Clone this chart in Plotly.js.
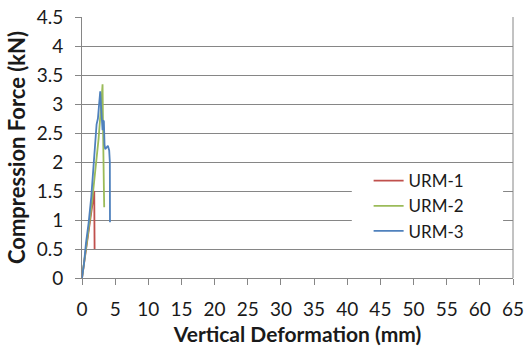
<!DOCTYPE html>
<html><head><meta charset="utf-8">
<script src="https://cdn.plot.ly/plotly-3.0.1.min.js"></script>
<style>html,body{margin:0;padding:0;background:#fff}#c{width:527px;height:354px}</style>
</head><body><div id="c"></div>
<script>
const seriesNames = ["URM-1", "URM-2", "URM-3"];
const urm1X = [0, 0.5, 1.0, 1.5, 1.85, 1.87, 1.9];
const urm1Y = [0, 0.42, 0.82, 1.22, 1.5, 1.0, 0.5];
const urm2X = [0, 0.5, 1.0, 1.5, 2.0, 2.5, 2.9, 3.1, 3.15, 3.2, 3.3, 3.35];
const urm2Y = [0, 0.4, 0.85, 1.3, 1.8, 2.4, 3.0, 3.34, 2.8, 1.8, 1.55, 1.22];
const urm3X = [0, 0.3, 0.6, 1.0, 1.4, 1.8, 2.1, 2.2, 2.4, 2.6, 2.75, 2.85, 3.0, 3.1, 3.2, 3.3, 3.4, 3.5, 3.7, 3.9, 4.1, 4.2, 4.22];
const urm3Y = [0, 0.25, 0.6, 0.95, 1.4, 2.0, 2.55, 2.65, 2.75, 3.1, 3.22, 3.0, 2.6, 2.55, 2.72, 2.7, 2.3, 2.22, 2.25, 2.28, 2.2, 2.0, 0.96];
const colors = ["#C0504D", "#9BBB59", "#4F81BD"];
const xTicks = [0,5,10,15,20,25,30,35,40,45,50,55,60,65];
const yTicks = [0,0.5,1,1.5,2,2.5,3,3.5,4,4.5];

const xs = [urm1X, urm2X, urm3X], ys = [urm1Y, urm2Y, urm3Y];
const traces = seriesNames.map((n,i)=>({x: xs[i], y: ys[i], name: n, type:'scatter', mode:'lines', line:{color:colors[i], width:1.8}}));
const font = "Lato, 'Open Sans', sans-serif";
const layout = {
  width:527, height:354,
  margin:{l:82, r:14, t:17, b:76},
  paper_bgcolor:'#fff', plot_bgcolor:'#fff',
  font:{family:font, size:19, color:'#1a1a1a'},
  showlegend:true,
  legend:{x:0.665, y:0.44, xanchor:'left', yanchor:'top', bgcolor:'rgba(0,0,0,0)', font:{size:17}, tracegroupgap:0, itemwidth:30},
  xaxis:{range:[0,65], tickvals:xTicks, ticktext:xTicks.map(String), ticks:'outside', ticklen:6, tickcolor:'#868686',
    showline:true, linecolor:'#868686', linewidth:1, showgrid:false, zeroline:false, mirror:false, ticklabelstandoff:8,
    tickfont:{size:19},
    title:{text:'<b>Vertical Deformation (mm)</b>', font:{size:21}, standoff:8}},
  yaxis:{range:[0,4.5], tickvals:yTicks, ticktext:yTicks.map(String), ticks:'outside', ticklen:6, tickcolor:'#868686',
    showline:true, linecolor:'#868686', linewidth:1, showgrid:true, gridcolor:'#868686', gridwidth:1, zeroline:false,
    ticklabelstandoff:8, tickfont:{size:19},
    title:{text:'<b>Compression Force (kN)</b>', font:{size:22}, standoff:4}},
  shapes:[
    {type:'line', xref:'paper', yref:'paper', x0:1, x1:1, y0:0, y1:1, line:{color:'#868686', width:1}},
    {type:'rect', xref:'paper', yref:'paper', x0:0.626, x1:0.977, y0:0.123, y1:0.431, fillcolor:'#fff', line:{width:0}, layer:'above'}
  ]
};
Plotly.newPlot('c', traces, layout, {displayModeBar:false, staticPlot:true});
</script></body></html>
